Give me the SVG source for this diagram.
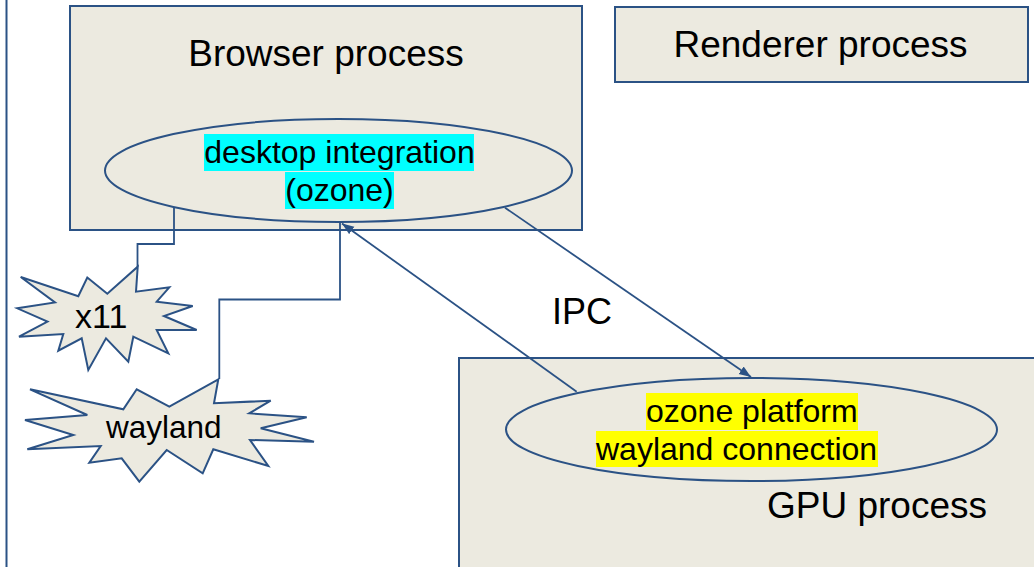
<svg xmlns="http://www.w3.org/2000/svg" width="1034" height="567" viewBox="0 0 1034 567">
<style>
.box{fill:#ECEAE0;stroke:#2B5285;stroke-width:2}
.ell{fill:#ECEAE0;stroke:#2B5285;stroke-width:2}
.star{fill:#ECEAE0;stroke:#2B5285;stroke-width:2;stroke-linejoin:miter}
.con{fill:none;stroke:#2B5285;stroke-width:1.8}
text{font-family:"Liberation Sans",Arial,sans-serif;fill:#000}
.big{font-size:37px}
.mid{font-size:32px}
</style>
<defs>
<marker id="arr" markerUnits="userSpaceOnUse" markerWidth="13" markerHeight="10" refX="12" refY="4.5" orient="auto">
<path d="M0,0 L12,4.5 L0,9 z" fill="#2B5285"/>
</marker>
</defs>
<rect width="1034" height="567" fill="#fff"/>
<line x1="6.5" y1="0" x2="6.5" y2="567" stroke="#2B5285" stroke-width="2"/>

<g id="browser">
<rect class="box" x="70" y="6" width="512" height="224"/>
<text class="big" x="326" y="66" text-anchor="middle">Browser process</text>
</g>
<g id="desktop-integration">
<ellipse class="ell" cx="338.5" cy="170.5" rx="233.5" ry="51.5"/>
<rect x="204" y="134" width="270" height="37" fill="#00FFFF"/>
<rect x="285" y="172" width="109" height="37" fill="#00FFFF"/>
<text class="mid" x="339.5" y="163" text-anchor="middle">desktop integration</text>
<text class="mid" x="339.5" y="201" text-anchor="middle">(ozone)</text>
</g>
<g id="renderer">
<rect class="box" x="615" y="7" width="413" height="75"/>
<text class="big" x="820.5" y="57" text-anchor="middle">Renderer process</text>
</g>
<g id="gpu">
<rect class="box" x="459" y="358" width="590" height="220"/>
<text class="big" x="767" y="518">GPU process</text>
</g>
<g id="ozone-platform">
<ellipse class="ell" cx="751.5" cy="429.5" rx="245.5" ry="51.5"/>
<rect x="646" y="393" width="212" height="37" fill="#FFFF00"/>
<rect x="596" y="431" width="282" height="36" fill="#FFFF00"/>
<text class="mid" x="646" y="422">ozone platform</text>
<text class="mid" x="596" y="460">wayland connection</text>
</g>
<g id="x11">
<polygon class="star" points="137.7,266.7 136,291.7 169.3,287.3 156.7,301.7 192.7,306 164,316 196.7,330 156.7,330 168.3,353.3 133.3,336.7 128.3,361.7 106,338.3 88.3,370 81.7,338.3 58.3,350.7 63.3,334 19,336.7 47.5,321.7 17.3,308.3 55,302.5 20.7,277 78.3,296.3 87.3,277.5 107.3,293.7"/>
<text x="75" y="328" style="font-size:34px">x11</text>
</g>
<g id="wayland">
<polygon class="star" points="218.3,379.3 214,403.3 270.7,400.7 249.3,413.3 306.7,417.3 260.7,428.3 314,441.7 250,440 268.3,466 213.3,449.3 202.7,473.3 166.7,450 139.3,481.7 121.7,458.3 89.3,462.7 100.7,446 27.3,449.3 73.3,435 25,420 87.3,415 30,389.3 123.3,409.3 136.7,389.3 169.3,406.7"/>
<text x="106" y="438" style="font-size:31.5px">wayland</text>
</g>
<g id="connectors">
<polyline class="con" points="137.5,267 137.5,244 174,244 174,207"/>
<polyline class="con" points="219.3,379 219.3,299.5 340,299.5 340,223"/>
<line class="con" x1="576.7" y1="391.7" x2="342" y2="223.5" marker-end="url(#arr)"/>
<line class="con" x1="505" y1="207.7" x2="751" y2="377" marker-end="url(#arr)"/>
<text x="552" y="324" style="font-size:36px">IPC</text>
</g>
</svg>
